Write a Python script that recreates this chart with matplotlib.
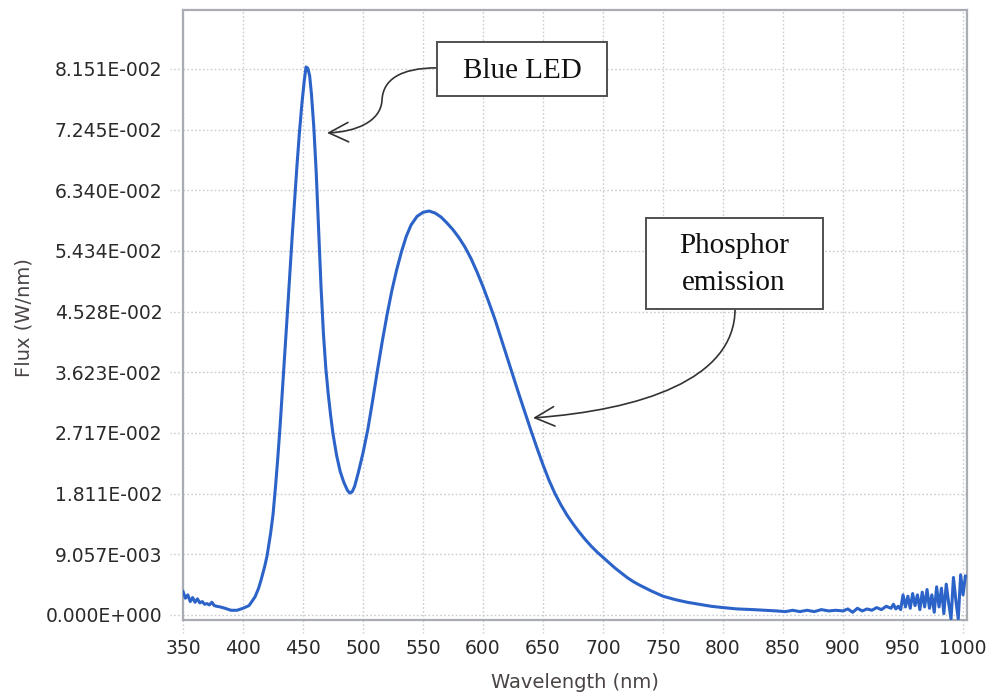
import matplotlib
matplotlib.use("Agg")
import matplotlib.pyplot as plt
import matplotlib.transforms as mtrans
from matplotlib.patches import FancyArrowPatch, Rectangle
from matplotlib.path import Path

# Measured spectral flux of a white (phosphor-converted) LED
wavelength_nm = [
    350, 352, 354, 356, 358, 360, 362, 364, 366, 368,
    370, 372, 374, 376, 378, 381, 385, 390, 395, 400,
    405, 410, 413, 415, 418, 420, 423, 425, 427, 429,
    431, 433, 435, 437, 439, 441, 443, 445, 447, 449,
    451, 452.5, 454, 455.5, 457, 459, 461, 463, 465, 467,
    469, 471, 473, 475, 478, 481, 484, 487, 489, 491,
    493, 496, 500, 504, 508, 512, 516, 520, 524, 528,
    532, 536, 540, 545, 550, 555, 560, 565, 570, 575,
    580, 585, 590, 595, 600, 605, 610, 615, 620, 625,
    630, 635, 640, 645, 650, 655, 660, 665, 670, 675,
    680, 685, 690, 695, 700, 705, 710, 715, 720, 725,
    730, 740, 750, 760, 770, 780, 790, 800, 812, 825,
    835, 845, 852, 858, 864, 870, 876, 882, 888, 894,
    900, 904, 908, 912, 916, 920, 924, 928, 932, 936,
    940, 942, 944, 946, 948, 950, 952, 954, 956, 958,
    960, 962, 964, 966, 968, 970, 972, 974, 976, 978,
    980, 982, 984, 986, 988, 990, 992, 994, 996, 998,
    1000, 1002,
]
flux_w_per_nm = [
    0.0035, 0.0025, 0.0030, 0.0020, 0.0026, 0.0019, 0.0024, 0.0018, 0.0020, 0.0016,
    0.0017, 0.0015, 0.0019, 0.0014, 0.0013, 0.0012, 0.0010, 0.0007, 0.0007, 0.0010,
    0.0014, 0.0027, 0.0040, 0.0052, 0.0072, 0.0088, 0.0122, 0.0150, 0.0190, 0.0235,
    0.0285, 0.0340, 0.0395, 0.0452, 0.0510, 0.0566, 0.0620, 0.0672, 0.0720, 0.0762,
    0.0797, 0.0818, 0.0816, 0.0805, 0.0778, 0.0728, 0.0660, 0.0575, 0.0490, 0.0420,
    0.0368, 0.0330, 0.0298, 0.0270, 0.0238, 0.0214, 0.0198, 0.0186, 0.0182, 0.0184,
    0.0192, 0.0212, 0.0242, 0.0277, 0.0320, 0.0365, 0.0408, 0.0448, 0.0484, 0.0515,
    0.0542, 0.0565, 0.0582, 0.0595, 0.0601, 0.0603, 0.0600, 0.0594, 0.0585, 0.0575,
    0.0563, 0.0549, 0.0532, 0.0512, 0.0490, 0.0466, 0.0441, 0.0413, 0.0385, 0.0357,
    0.0329, 0.0302, 0.0275, 0.0249, 0.0224, 0.0201, 0.0181, 0.0164, 0.0149, 0.0136,
    0.0124, 0.0113, 0.0103, 0.0094, 0.0086, 0.0078, 0.0070, 0.0063, 0.0056, 0.0050,
    0.0045, 0.0036, 0.0028, 0.0023, 0.0019, 0.0016, 0.0013, 0.0011, 0.0009, 0.0008,
    0.0007, 0.0006, 0.0005, 0.0007, 0.0005, 0.0007, 0.0005, 0.0008, 0.0006, 0.0007,
    0.0006, 0.0009, 0.0004, 0.0010, 0.0006, 0.0009, 0.0007, 0.0011, 0.0008, 0.0013,
    0.0010, 0.0016, 0.0009, 0.0013, 0.0008, 0.0030, 0.0012, 0.0028, 0.0010, 0.0032,
    0.0014, 0.0030, 0.0008, 0.0034, 0.0012, 0.0038, 0.0010, 0.0030, 0.0004, 0.0042,
    0.0012, 0.0040, 0.0002, 0.0046, 0.0018, -0.0006, 0.0056, 0.0022, -0.0006, 0.0060,
    0.0030, 0.0058,
]

x_ticks = [350, 400, 450, 500, 550, 600, 650, 700, 750, 800, 850, 900, 950, 1000]
y_tick_labels = ["0.000E+000", "9.057E-003", "1.811E-002", "2.717E-002",
                 "3.623E-002", "4.528E-002", "5.434E-002", "6.340E-002",
                 "7.245E-002", "8.151E-002"]

LINE_BLUE = "#2b63c8"
GRID = "#c9ccd2"
FRAME = "#a9adb3"
DOTS = (0, (1.2, 1.6))

fig = plt.figure(figsize=(9.92, 6.96), dpi=100)
ax = fig.add_axes([0.1845, 0.1092, 0.7903, 0.8764])

ax.plot(wavelength_nm, flux_w_per_nm, color=LINE_BLUE, lw=2.2,
        solid_joinstyle="round", zorder=3)

ax.set_xlim(350, 1003.3)
ax.set_ylim(-0.00075, 0.0903)

y_ticks = [float(s) for s in y_tick_labels]
ax.set_xticks(x_ticks)
ax.set_xticklabels([str(v) for v in x_ticks])
ax.set_yticks(y_ticks)
ax.set_yticklabels(y_tick_labels)
ax.tick_params(length=0, labelsize=13.5, colors="#2a2a2a")
ax.tick_params(axis="y", pad=15)
ax.tick_params(axis="x", pad=14)

ax.grid(True, color=GRID, linestyle=DOTS, linewidth=1.0, zorder=0)

# dotted grid stubs running past the frame, acting as tick marks
tx = mtrans.blended_transform_factory(ax.transData, ax.transAxes)
ty = mtrans.blended_transform_factory(ax.transAxes, ax.transData)
for xv in x_ticks:
    ax.plot([xv, xv], [0, -0.022], transform=tx, color=GRID,
            linestyle=DOTS, lw=1.0, clip_on=False, zorder=0)
for yv in y_ticks:
    ax.plot([0, -0.017], [yv, yv], transform=ty, color=GRID,
            linestyle=DOTS, lw=1.0, clip_on=False, zorder=0)

for side in ax.spines.values():
    side.set_color(FRAME)
    side.set_linewidth(1.6)

ax.text(0.5, -0.103, "Wavelength (nm)", transform=ax.transAxes, fontsize=14,
        color="#4a4444", ha="center", va="center")
ax.text(-0.2030, 0.495, "Flux (W/nm)", transform=ax.transAxes, fontsize=14,
        color="#4a4444", ha="center", va="center", rotation=90)


def px(xp, yp):
    """Convert figure pixel position to data coordinates."""
    return (350 + (xp - 183) / 1.2, (615 - yp) * 1.4929e-4)


def callout_box(x0, y0, x1, y1):
    (dx0, dy1), (dx1, dy0) = px(x0, y0), px(x1, y1)
    ax.add_patch(Rectangle((dx0, dy0), dx1 - dx0, dy1 - dy0, fc="white",
                           ec="#505050", lw=1.4, zorder=5))


serif = ["Liberation Serif", "DejaVu Serif"]
label_kw = dict(fontsize=21, family=serif, ha="center", va="baseline",
                color="#111111", zorder=6)

callout_box(437, 42, 607, 96)
ax.text(*px(522, 78), "Blue LED", **label_kw)

callout_box(646, 218, 823, 309)
ax.text(*px(734, 253), "Phosphor", **label_kw)
ax.text(*px(734, 290), "emission", **label_kw)

arrow_kw = dict(arrowstyle="->,head_length=0.7,head_width=0.35",
                mutation_scale=20, color="#333333", lw=1.2, zorder=4,
                clip_on=False)

led_path = Path(
    [px(437, 68), px(400, 68), px(383, 80), px(382, 100),
     px(381, 122), px(355, 132), px(327, 133)],
    [Path.MOVETO, Path.CURVE4, Path.CURVE4, Path.CURVE4,
     Path.CURVE4, Path.CURVE4, Path.CURVE4])
ax.add_patch(FancyArrowPatch(path=led_path, **arrow_kw))

ph_path = Path(
    [px(735, 309), px(735, 380), px(640, 410), px(533, 418)],
    [Path.MOVETO, Path.CURVE4, Path.CURVE4, Path.CURVE4])
ax.add_patch(FancyArrowPatch(path=ph_path, **arrow_kw))

fig.savefig("out.png", dpi=100, facecolor="white")
